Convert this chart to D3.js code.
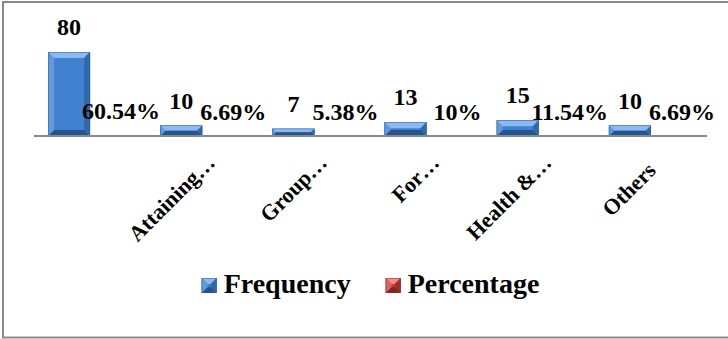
<!DOCTYPE html>
<html>
<head>
<meta charset="utf-8">
<script src="https://cdn.jsdelivr.net/npm/d3@7"></script>
<style>
  html, body { margin: 0; padding: 0; background: #fff; }
  svg { display: block; }
  text { font-family: "Liberation Serif", "Times New Roman", serif; font-weight: bold; fill: #000; }
</style>
</head>
<body>
<svg id="chart" width="728" height="339"></svg>
<script>
// Categories (long names are shown truncated on the axis)
const categories = ["", "Attaining…", "Group…", "For…", "Health &…", "Others  "];
// Series values
const frequency = [80, 10, 7, 13, 15, 10];
const percentage = [60.54, 6.69, 5.38, 10, 11.54, 6.69];
const seriesNames = ["Frequency", "Percentage"];

const svg = d3.select("#chart");

// Outer frame
svg.append("rect")
  .attr("x", 3).attr("y", 2)
  .attr("width", 740).attr("height", 335.5)
  .attr("fill", "#fff")
  .attr("stroke", "#888").attr("stroke-width", 2);

const plot = { left: 34, right: 707, base: 136 };

const x0 = d3.scaleBand()
  .domain(d3.range(categories.length))
  .range([plot.left, plot.right])
  .paddingInner(0.25)
  .paddingOuter(0.125);

const x1 = d3.scaleBand()
  .domain(seriesNames)
  .range([0, x0.bandwidth()]);

const y = d3.scaleLinear()
  .domain([0, 90])
  .range([plot.base, plot.base - 94.5]);

// Percentages are plotted as fractions on the same axis as the counts
const rows = categories.map((c, i) => ({
  i,
  values: [
    { key: "Frequency", value: frequency[i], label: String(frequency[i]) },
    { key: "Percentage", value: percentage[i] / 100, label: percentage[i] + "%" }
  ]
}));

const palette = {
  Frequency: { face: "#4182d0", top: "#8cbaf0", left: "#6199dc", right: "#3068ab", bottom: "#25558f", edge: "#2a5c9c" },
  Percentage: { face: "#c0413d", top: "#ee8c89", left: "#d86460", right: "#9c2f2c", bottom: "#7f2422", edge: "#8e2c29" }
};

// Bevelled bar: flat face plus four sloped edges
function bevelBar(g, bx, by, bw, bh, c) {
  if (bh <= 0) return;
  const b = Math.min(6, bh / 2, bw / 2);
  g.append("rect").attr("x", bx).attr("y", by).attr("width", bw).attr("height", bh).attr("fill", c.face);
  const poly = (pts, fill) => g.append("polygon").attr("points", pts.map(p => p.join(",")).join(" ")).attr("fill", fill);
  poly([[bx, by], [bx + bw, by], [bx + bw - b, by + b], [bx + b, by + b]], c.top);
  poly([[bx, by + bh], [bx + bw, by + bh], [bx + bw - b, by + bh - b], [bx + b, by + bh - b]], c.bottom);
  poly([[bx, by], [bx + b, by + b], [bx + b, by + bh - b], [bx, by + bh]], c.left);
  poly([[bx + bw, by], [bx + bw - b, by + b], [bx + bw - b, by + bh - b], [bx + bw, by + bh]], c.right);
  g.append("rect").attr("x", bx + 0.25).attr("y", by + 0.25).attr("width", bw - 0.5).attr("height", Math.max(0, bh - 0.5))
    .attr("fill", "none").attr("stroke", c.edge).attr("stroke-width", 0.5);
}

const groups = svg.append("g").selectAll("g.cat")
  .data(rows).join("g")
  .attr("class", "cat")
  .attr("transform", d => `translate(${x0(d.i)},0)`);

groups.each(function (d) {
  const g = d3.select(this);
  d.values.forEach(v => {
    const bx = x1(v.key), bw = x1.bandwidth();
    const top = y(v.value);
    bevelBar(g.append("g"), bx, top, bw, y(0) - top, palette[v.key]);
  });
});

// Category axis line
svg.append("line")
  .attr("x1", plot.left).attr("x2", plot.right)
  .attr("y1", plot.base).attr("y2", plot.base)
  .attr("stroke", "#898989").attr("stroke-width", 2);

// Data labels
groups.each(function (d) {
  const g = d3.select(this);
  d.values.forEach(v => {
    const shift = v.key === "Percentage" ? 10 : 0;
    g.append("text")
      .attr("x", x1(v.key) + x1.bandwidth() / 2 + shift)
      .attr("y", y(v.value) - (v.key === "Percentage" ? 16 : 17))
      .attr("text-anchor", "middle")
      .style("font-size", "24px")
      .text(v.label);
  });
});

// Rotated category labels
svg.append("g").selectAll("text")
  .data(categories.map((c, i) => ({ c, i })))
  .join("text")
  .attr("transform", d => `translate(${x0(d.i) + x0.bandwidth() / 2 + 14},164) rotate(-45)`)
  .attr("text-anchor", "end")
  .style("font-size", "22px")
  .style("white-space", "pre")
  .text(d => d.c);

// Legend
const legend = svg.append("g");
const items = legend.selectAll("g").data(seriesNames).join("g");
items.each(function (name) {
  const g = d3.select(this);
  bevelBar(g, 0, -15, 15, 15, palette[name]);
  g.append("text").attr("x", 22).attr("y", 0).style("font-size", "28px").text(name);
});
let cx = 0;
items.each(function () {
  const w = this.getBBox().width;
  d3.select(this).attr("transform", `translate(${cx},0)`);
  cx += w + 35;
});
const legendW = cx - 35;
legend.attr("transform", `translate(${(plot.left + plot.right) / 2 - legendW / 2},293)`);
</script>
</body>
</html>
